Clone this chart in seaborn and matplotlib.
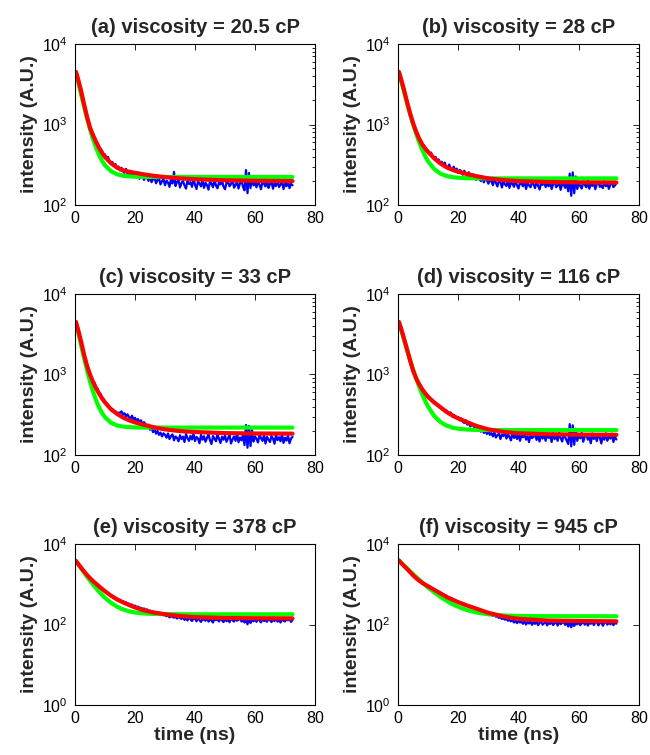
import numpy as np
import matplotlib
matplotlib.use("Agg")
import matplotlib.pyplot as plt
from matplotlib import ticker
import seaborn as sns

# ---------------- data ----------------
PANEL_TITLES = ["(a) viscosity = 20.5 cP", "(b) viscosity = 28 cP",
                "(c) viscosity = 33 cP", "(d) viscosity = 116 cP",
                "(e) viscosity = 378 cP", "(f) viscosity = 945 cP"]

# measured decay, sampled every 0.5 ns starting at 0 ns
DATA_STEP_NS = 0.5
BLUE_A = [4600,4230,3700,3180,2640,2230,1800,1540,1250,1090,
          935,800,760,690,610,590,515,505,470,430,
          425,378,395,348,330,341,305,322,284,300,
          268,290,262,251,281,246,238,266,229,252,
          241,220,254,212,231,239,205,226,218,199,
          229,192,208,221,186,204,215,180,198,209,
          176,201,190,168,212,185,258,172,194,206,
          165,188,199,174,160,203,182,192,168,211,
          179,158,196,185,170,207,163,189,176,155,
          198,183,166,210,174,161,192,180,202,169,
          157,188,196,171,182,208,164,177,193,160,
          186,204,168,152,272,140,250,162,226,175,
          190,166,201,178,157,195,184,170,209,163,
          182,196,159,188,172,205,167,180,193,158,
          187,171,199,162,183,176]
BLUE_B = [4620,4240,3720,3230,2690,2300,1880,1620,1360,1200,
          1050,905,835,760,668,640,560,556,497,490,
          470,425,448,400,382,395,352,368,331,345,
          312,336,300,285,318,278,270,300,262,283,
          251,272,262,238,266,245,226,255,232,214,
          240,221,205,232,210,198,224,191,212,205,
          184,206,196,176,214,188,170,202,192,165,
          198,181,172,207,163,190,185,168,200,176,
          160,192,183,171,204,158,186,175,166,197,
          180,162,195,174,156,189,178,199,167,184,
          171,193,158,182,197,166,175,188,154,186,
          179,163,194,148,245,130,254,140,226,158,
          187,172,160,196,178,166,201,159,184,173,
          190,157,182,195,168,176,162,198,171,185,
          159,180,192,167,175,186]
BLUE_C = [4600,4200,3640,3120,2600,2180,1760,1530,1290,1150,
          1010,930,820,790,690,665,590,575,520,500,
          462,440,418,396,378,372,350,346,330,336,
          335,348,316,330,302,320,296,284,308,276,
          290,262,280,248,270,234,256,242,225,238,
          206,221,192,210,184,199,178,190,170,186,
          178,164,185,158,172,180,152,170,163,148,
          176,158,169,145,182,162,150,173,156,184,
          149,168,160,140,178,155,171,146,163,180,
          152,137,172,160,148,183,158,141,169,155,
          174,146,162,178,139,156,170,150,186,144,
          165,152,177,133,236,123,230,129,204,147,
          171,158,143,180,162,150,176,139,168,155,
          145,172,160,138,178,153,166,148,182,141,
          164,151,175,140,160,168]
BLUE_D = [4620,4250,3780,3300,2780,2420,2020,1780,1480,1320,
          1130,1010,890,820,740,700,640,622,575,560,
          540,515,492,470,455,440,418,408,388,376,
          372,348,360,330,322,338,302,316,288,296,
          296,270,284,262,250,270,238,252,226,241,
          232,214,226,204,218,195,209,188,202,182,
          196,178,188,170,192,165,176,184,158,180,
          172,188,160,180,167,152,190,163,175,158,
          183,150,176,166,188,155,171,145,180,162,
          168,185,154,173,147,189,160,177,150,182,
          163,176,145,186,158,171,150,190,162,147,
          180,166,151,137,242,128,234,134,212,150,
          176,161,188,146,170,182,155,167,140,185,
          158,174,149,181,164,139,177,155,186,150,
          172,160,184,145,169,156]
BLUE_E = [3850,3620,3350,2930,2650,2340,2110,1870,1700,1540,
          1440,1290,1220,1100,1040,950,900,820,785,715,
          690,630,600,560,540,500,484,452,440,410,
          410,385,380,356,352,330,330,306,312,288,
          294,270,278,256,260,242,250,228,238,216,
          220,204,212,192,202,184,198,174,186,170,
          172,160,170,150,162,155,148,158,141,152,
          146,138,152,130,144,126,150,135,122,142,
          138,120,145,128,116,140,131,124,146,118,
          134,125,112,142,128,138,119,147,126,115,
          140,121,133,114,145,127,118,138,124,131,
          143,118,129,112,136,101,140,109,132,120,
          137,116,144,125,113,139,122,130,117,142,
          128,115,136,121,146,118,131,112,138,124,
          119,135,127,141,116,130]
BLUE_F = [3950,3700,3430,3120,2880,2620,2430,2200,2040,1850,
          1720,1550,1460,1330,1270,1160,1120,1030,1000,920,
          905,840,825,768,755,695,690,632,628,578,
          572,528,524,482,482,442,444,406,410,374,
          378,346,352,318,328,296,304,276,286,256,
          266,242,250,224,236,210,220,197,206,185,
          192,174,182,162,170,156,160,146,150,138,
          142,132,138,124,130,120,128,112,125,108,
          122,112,118,104,121,100,116,106,120,98,
          114,104,120,96,111,117,99,108,121,95,
          112,103,118,97,109,115,94,119,102,110,
          116,98,112,89,117,85,113,92,110,101,
          118,96,108,114,99,120,94,111,104,116,
          97,112,119,95,108,116,93,110,118,99,
          113,101,117,96,110,105]

# fitted curves
T_FIT = [0.3, 1, 2, 3, 4, 5, 6, 7, 8, 9, 10, 12, 14, 16, 18, 20, 23, 26, 30, 35, 40, 50, 60, 72.5]
RED_A = [4500,3700,2650,1800,1250,915,740,610,515,445,395,330,292,270,259,251,240,231,222,214,209,203,200,198]
GREEN_A = [4500,3454,2388,1675,1197,874,660,516,420,355,311,263,241,231,227,225,224,223,223,223,223,223,223,223]
RED_B = [4500,3700,2700,1900,1380,1040,820,670,570,505,455,380,330,296,274,259,242,228,214,204,198,193,191,190]
GREEN_B = [4500,3552,2549,1848,1357,1014,774,606,488,406,348,280,246,230,222,218,215,214,214,214,214,214,214,214]
RED_C = [4500,3650,2600,1780,1290,1000,810,680,580,505,450,370,325,292,270,254,237,222,208,198,193,187,185,184]
GREEN_C = [4500,3416,2327,1609,1135,823,617,481,392,333,294,252,233,225,222,220,219,219,219,219,219,219,219,219]
RED_D = [4500,3750,2800,2050,1500,1120,900,760,660,585,525,450,395,345,310,285,255,230,208,194,186,181,179,178]
GREEN_D = [4500,3643,2703,2020,1523,1162,900,710,572,471,398,306,258,233,219,212,207,205,204,204,204,204,204,204]
RED_E = [3800,3250,2600,2080,1700,1420,1200,1030,890,770,670,520,420,355,305,265,225,200,180,162,152,145,143,142]
GREEN_E = [3800,3192,2495,1958,1546,1229,986,800,656,546,461,346,277,237,213,199,188,183,181,180,179,179,179,179]
RED_F = [3900,3400,2850,2400,2000,1670,1420,1230,1090,980,890,730,600,490,415,358,295,248,195,158,138,125,122,120]
GREEN_F = [3900,3463,2926,2477,2100,1785,1521,1300,1115,959,830,630,489,391,322,274,227,199,179,168,163,161,160,160]

BLUES = [BLUE_A, BLUE_B, BLUE_C, BLUE_D, BLUE_E, BLUE_F]
REDS = [RED_A, RED_B, RED_C, RED_D, RED_E, RED_F]
GREENS = [GREEN_A, GREEN_B, GREEN_C, GREEN_D, GREEN_E, GREEN_F]

X_TICKS = [0, 20, 40, 60, 80]
Y_TICKS_TOP = [1e2, 1e3, 1e4]
Y_TICKS_BOTTOM = [1e0, 1e2, 1e4]

# ---------------- style ----------------
sns.set_theme(style="white")
plt.rcParams["font.family"] = ["Liberation Sans", "DejaVu Sans"]
plt.rcParams["mathtext.fontset"] = "custom"
plt.rcParams["mathtext.rm"] = "Liberation Sans"
plt.rcParams["mathtext.it"] = "Liberation Sans:italic"
plt.rcParams["mathtext.bf"] = "Liberation Sans:bold"
plt.rcParams["axes.edgecolor"] = "black"
plt.rcParams["axes.linewidth"] = 0.8

W, H = 650, 755
fig = plt.figure(figsize=(W / 100, H / 100), dpi=100)

col_left = [75, 398]
col_width = [240, 241]
row_top = [44, 294, 544]
ax_h = 161

for i in range(6):
    r, c = divmod(i, 2)
    x0 = col_left[c] / W
    y0 = 1 - (row_top[r] + ax_h) / H
    ax = fig.add_axes([x0, y0, col_width[c] / W, ax_h / H])

    tb = DATA_STEP_NS * np.arange(len(BLUES[i]))
    sns.lineplot(x=tb, y=BLUES[i], ax=ax, color=(0, 0, 1), lw=1.6,
                 estimator=None, sort=False)
    sns.lineplot(x=T_FIT, y=GREENS[i], ax=ax, color=(0, 1, 0), lw=3.0,
                 estimator=None, sort=False)
    sns.lineplot(x=T_FIT, y=REDS[i], ax=ax, color=(1, 0, 0), lw=3.0,
                 estimator=None, sort=False)

    ax.set_yscale("log")
    ax.set_xlim(0, 80)
    ax.set_xticks(X_TICKS)
    if r < 2:
        ax.set_ylim(1e2, 1e4)
        ax.yaxis.set_major_locator(ticker.FixedLocator(Y_TICKS_TOP))
        ax.yaxis.set_minor_locator(ticker.LogLocator(base=10, subs=np.arange(2, 10)))
    else:
        ax.set_ylim(1e0, 1e4)
        ax.yaxis.set_major_locator(ticker.FixedLocator(Y_TICKS_BOTTOM))
        ax.yaxis.set_minor_locator(ticker.NullLocator())
    ax.yaxis.set_major_formatter(ticker.LogFormatterSciNotation())
    ax.yaxis.set_minor_formatter(ticker.NullFormatter())

    ax.tick_params(axis="both", which="both", direction="in", top=True, right=True,
                   colors="black", width=0.6)
    ax.tick_params(axis="both", which="major", length=4, labelsize=11.5)
    ax.tick_params(axis="y", which="major", pad=5)
    ax.tick_params(axis="x", which="major", pad=4)
    ax.tick_params(axis="y", which="minor", length=2)
    for s in ax.spines.values():
        s.set_color("black")
        s.set_linewidth(0.8)

    ax.set_title(PANEL_TITLES[i], fontsize=14.5, fontweight="bold", pad=8)
    ax.set_ylabel("intensity (A.U.)", fontsize=14, fontweight="bold", labelpad=3)
    if r == 2:
        ax.set_xlabel("time (ns)", fontsize=14, fontweight="bold", labelpad=1)
    else:
        ax.set_xlabel("")

fig.savefig("out.png", dpi=100, facecolor="white")
